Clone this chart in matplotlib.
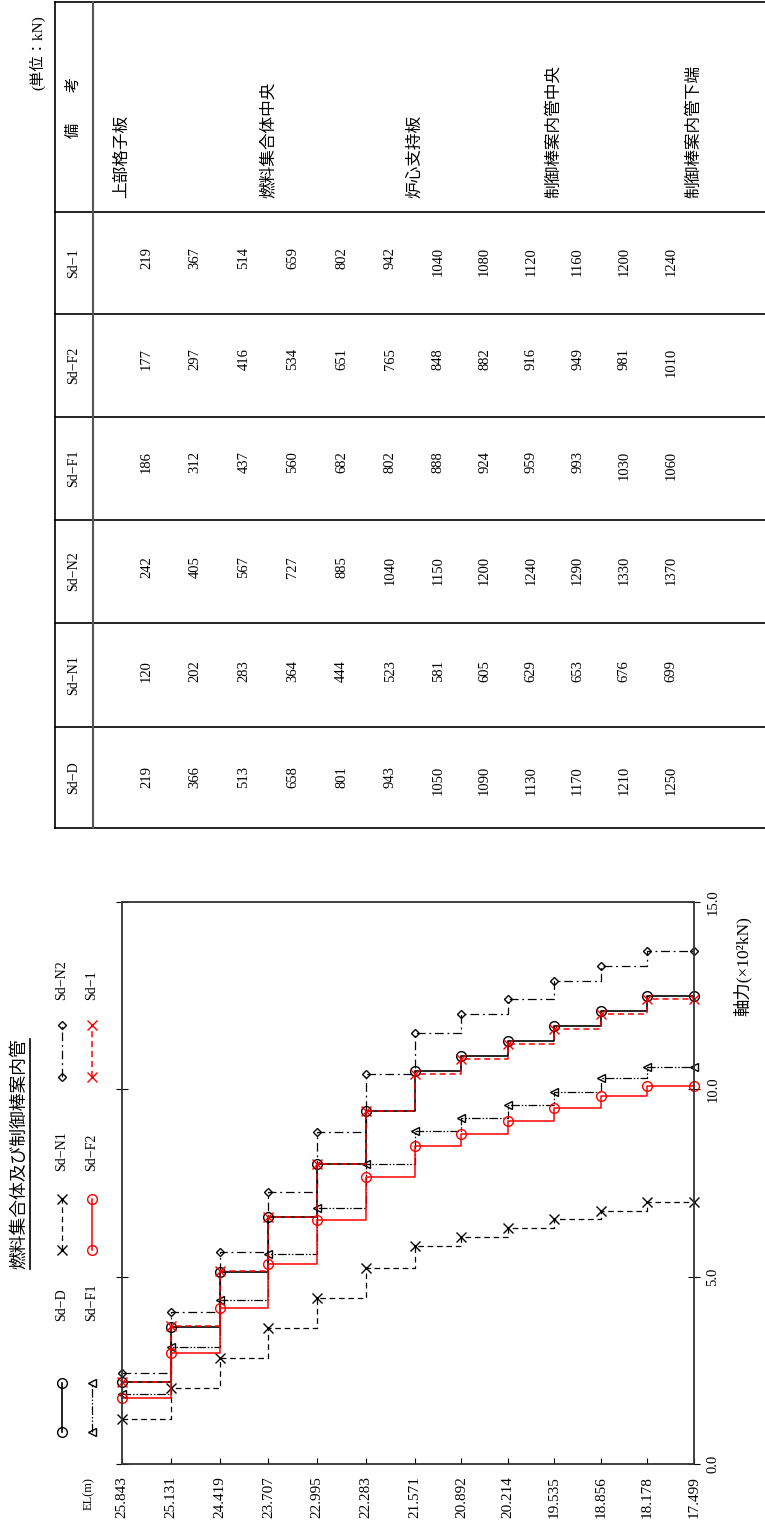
import matplotlib
matplotlib.use('Agg')
import matplotlib.pyplot as plt
from matplotlib.lines import Line2D
from matplotlib import transforms

plt.rcParams['font.family'] = ['Liberation Serif', 'Noto Sans CJK JP']

W, H = 765, 1525

# elevation nodes (m)
el = [25.843, 25.131, 24.419, 23.707, 22.995, 22.283, 21.571,
      20.892, 20.214, 19.535, 18.856, 18.178, 17.499]

# axial force (kN), one value per interval between nodes
sd_d = [219, 366, 513, 658, 801, 943, 1050, 1090, 1130, 1170, 1210, 1250]
sd_n1 = [120, 202, 283, 364, 444, 523, 581, 605, 629, 653, 676, 699]
sd_n2 = [242, 405, 567, 727, 885, 1040, 1150, 1200, 1240, 1290, 1330, 1370]
sd_f1 = [186, 312, 437, 560, 682, 802, 888, 924, 959, 993, 1030, 1060]
sd_f2 = [177, 297, 416, 534, 651, 765, 848, 882, 916, 949, 981, 1010]
sd_1 = [219, 367, 514, 659, 802, 942, 1040, 1080, 1120, 1160, 1200, 1240]

remarks = ['上部格子板', '燃料集合体中央', '炉心支持板', '制御棒案内管中央', '制御棒案内管下端']
remark_nodes = [0, 3, 6, 9, 12]

force_ticks = [0.0, 5.0, 10.0, 15.0]
force_ticklabels = ['0.0', '5.0', '10.0', '15.0']


def fx(px):
    return px / W


def fy(py):
    return 1 - py / H


# name, values, color, marker, dashes, lw, marker size
series = [
    ('Sd−D', sd_d, 'black', 'o', None, 1.2, 7),
    ('Sd−N1', sd_n1, 'black', 'x', (4.5, 3), 0.9, 7),
    ('Sd−N2', sd_n2, 'black', 'D', (7, 3, 1.5, 3), 0.9, 4.5),
    ('Sd−F1', sd_f1, 'black', '<', (7, 1.5, 1.2, 1.5, 1.2, 1.5), 0.9, 5.5),
    ('Sd−F2', sd_f2, 'red', 'o', None, 1.1, 7),
    ('Sd−1', sd_1, 'red', 'x', (4, 2.5), 1.1, 7),
]

fig = plt.figure(figsize=(W / 100, H / 100), dpi=100)

# ---- chart ----
ax = fig.add_axes([fx(122), fy(1464), (694 - 122) / W, (1464 - 902) / H])
for name, vals, color, marker, dashes, lw, ms in series:
    y = [v / 100 for v in vals] + [vals[-1] / 100]
    line, = ax.plot(el, y, drawstyle='steps-post', color=color, lw=lw,
                    marker=marker, ms=ms, mfc='none', mec=color, mew=1.0,
                    clip_on=False)
    if dashes:
        line.set_dashes(dashes)

ax.set_xlim(el[0], el[-1])
ax.set_ylim(0, 15)
ax.set_xticks(el)
ax.set_xticklabels([f'{v:.3f}' for v in el], rotation=90, fontsize=11)
ax.set_yticks(force_ticks)
ax.set_yticklabels(force_ticklabels, rotation=90, va='center', fontsize=10.5)
ax.tick_params(axis='x', direction='in', length=4, pad=9, top=False)
ax.tick_params(axis='y', direction='inout', length=8, left=True, right=True,
               labelleft=False, labelright=True, pad=5)
for sp in ax.spines.values():
    sp.set_linewidth(1.3)
    sp.set_color('#333333')

fig.text(fx(742), fy(916), '軸力(×10²kN)', rotation=90, ha='center', va='top', fontsize=12.5)
fig.text(fx(89), fy(1510), 'EL(m)', rotation=90, ha='center', va='bottom', fontsize=9)

# title, underlined
title = fig.text(fx(20), fy(1154), '燃料集合体及び制御棒案内管', rotation=90,
                 ha='center', va='center', fontsize=12.8)

# legend drawn by hand (two columns, three groups)
leg_x = [62, 92]
leg_groups = [(1432, 1383, 1321), (1250, 1199, 1171), (1077, 1025, 1000)]
for i, (name, vals, color, marker, dashes, lw, ms) in enumerate(series):
    col = i // 3
    y1, y2, ylab = leg_groups[i % 3]
    ln = Line2D([fx(leg_x[col])] * 2, [fy(y1), fy(y2)], transform=fig.transFigure,
                color=color, lw=lw, marker=marker, ms=ms, mfc='none', mec=color, mew=1.0)
    if dashes:
        ln.set_dashes(dashes)
    fig.add_artist(ln)
    fig.text(fx(leg_x[col]), fy(ylab), name, rotation=90, ha='center', va='bottom',
             fontsize=10)

# ---- table ----
band_edges = [2, 212, 314, 417, 520, 623, 727, 828]
for yb in band_edges:
    fig.add_artist(Line2D([fx(55), 1.0], [fy(yb), fy(yb)], transform=fig.transFigure,
                          color='black', lw=1.2))
fig.add_artist(Line2D([fx(55), fx(55)], [fy(2), fy(828)], transform=fig.transFigure,
                      color='black', lw=1.2))
fig.add_artist(Line2D([fx(93), fx(93)], [fy(2), fy(828)], transform=fig.transFigure,
                      color='#555555', lw=1.5))

fig.text(fx(37), fy(15), '(単位：kN)', rotation=90, ha='center', va='top', fontsize=11)

# column bands (image y)
table_cols = [
    ('Sd−D', sd_d, 727, 828, 766),
    ('Sd−N1', sd_n1, 623, 727, 660),
    ('Sd−N2', sd_n2, 520, 623, 556),
    ('Sd−F1', sd_f1, 417, 520, 451),
    ('Sd−F2', sd_f2, 314, 417, 348),
    ('Sd−1', sd_1, 212, 314, 247),
]
trans = transforms.blended_transform_factory(ax.transData, fig.transFigure)
for name, vals, ytop, ybot, ynum in table_cols:
    fig.text(fx(74), fy((ytop + ybot) / 2), name, rotation=90, ha='center',
             va='center', fontsize=10)
    for i, v in enumerate(vals):
        xm = (el[i] + el[i + 1]) / 2
        fig.text(xm, fy(ynum), str(v), transform=trans, rotation=90,
                 ha='center', va='top', fontsize=10.5)

fig.text(fx(74), fy(107), '備　　考', rotation=90, ha='center', va='center', fontsize=11)
for txt, node in zip(remarks, remark_nodes):
    fig.text(el[node], fy(198), txt, transform=trans, rotation=90,
             ha='center', va='bottom', fontsize=12)

# underline for the title
fig.canvas.draw()
bb = title.get_window_extent()
ux = (bb.x1 + 1) / W
fig.add_artist(Line2D([ux, ux], [bb.y0 / H, bb.y1 / H], transform=fig.transFigure,
                      color='black', lw=1.2))

fig.savefig('out.png', dpi=100)
